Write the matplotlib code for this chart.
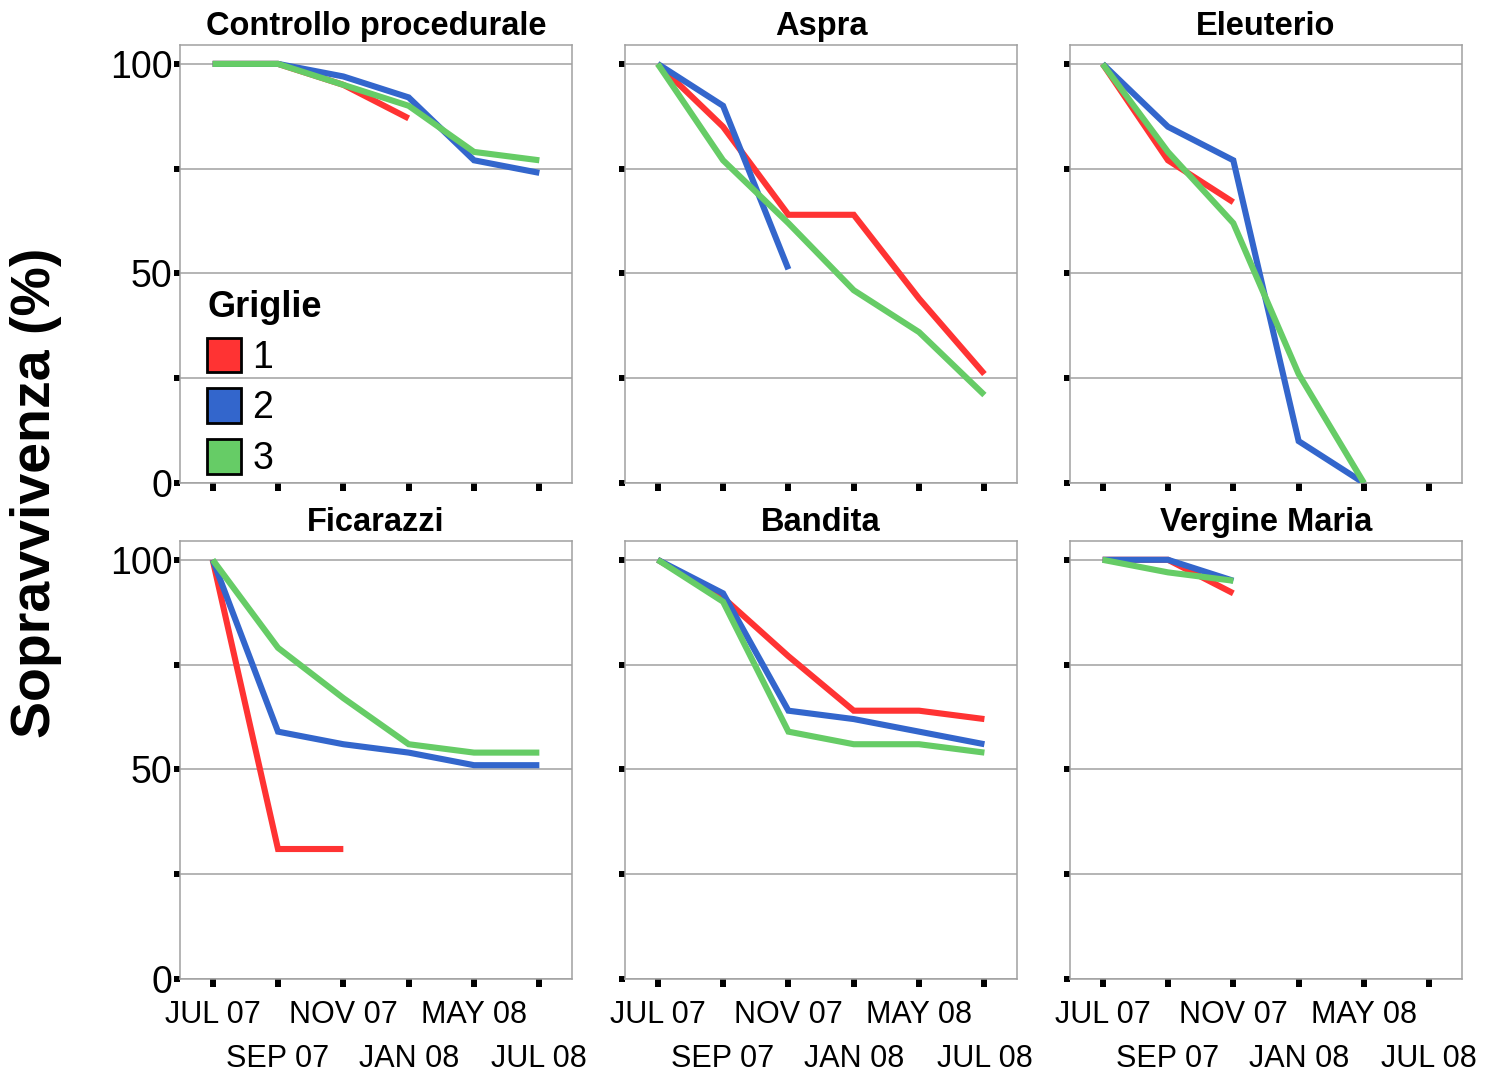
import matplotlib.pyplot as plt
import numpy as np
from matplotlib.patches import Patch

plt.rcParams['font.family'] = ['Liberation Sans', 'DejaVu Sans']

# survival (%) per grid, months without data = None
months = ["JUL 07", "SEP 07", "NOV 07", "JAN 08", "MAY 08", "JUL 08"]
griglie = ["1", "2", "3"]
colors = ["#ff3333", "#3366cc", "#66cc66"]

N = None
controllo_1 = [100, 100, 95, 87, N, N]
controllo_2 = [100, 100, 97, 92, 77, 74]
controllo_3 = [100, 100, 95, 90, 79, 77]

aspra_1 = [100, 85, 64, 64, 44, 26]
aspra_2 = [100, 90, 51, N, N, N]
aspra_3 = [100, 77, 62, 46, 36, 21]

eleuterio_1 = [100, 77, 67, N, N, N]
eleuterio_2 = [100, 85, 77, 10, 0, N]
eleuterio_3 = [100, 79, 62, 26, 0, N]

ficarazzi_1 = [100, 31, 31, N, N, N]
ficarazzi_2 = [100, 59, 56, 54, 51, 51]
ficarazzi_3 = [100, 79, 67, 56, 54, 54]

bandita_1 = [100, 91, 77, 64, 64, 62]
bandita_2 = [100, 92, 64, 62, 59, 56]
bandita_3 = [100, 90, 59, 56, 56, 54]

vergine_1 = [100, 100, 92, N, N, N]
vergine_2 = [100, 100, 95, N, N, N]
vergine_3 = [100, 97, 95, N, N, N]

sites = [
    ("Controllo procedurale", [controllo_1, controllo_2, controllo_3]),
    ("Aspra", [aspra_1, aspra_2, aspra_3]),
    ("Eleuterio", [eleuterio_1, eleuterio_2, eleuterio_3]),
    ("Ficarazzi", [ficarazzi_1, ficarazzi_2, ficarazzi_3]),
    ("Bandita", [bandita_1, bandita_2, bandita_3]),
    ("Vergine Maria", [vergine_1, vergine_2, vergine_3]),
]

fig = plt.figure(figsize=(14.9, 10.72), dpi=100)

lefts = [0.1208, 0.4195, 0.7181]
bottoms = [0.5494, 0.0868]
w, h = 0.2631, 0.4086

x = np.arange(len(months))
axes = []
for i, (title, series) in enumerate(sites):
    row, col = divmod(i, 3)
    ax = fig.add_axes([lefts[col], bottoms[row], w, h])
    axes.append(ax)

    for vals, c in zip(series, colors):
        ax.plot(x, np.array(vals, dtype=float), color=c, lw=4.4,
                solid_capstyle='butt', solid_joinstyle='miter', zorder=3)

    ax.set_xlim(-0.5, 5.5)
    ax.set_ylim(0, 104.5)
    ax.set_yticks([0, 25, 50, 75, 100])
    # alternate month labels on two rows: majors on top row, minors below
    ax.set_xticks(x[::2])
    ax.set_xticks(x[1::2], minor=True)
    ax.yaxis.grid(True, color='#a0a0a0', lw=1.1)
    ax.set_axisbelow(True)
    for s in ax.spines.values():
        s.set_color('#a0a0a0')
        s.set_linewidth(1.1)

    ax.tick_params(axis='y', length=4.3, width=4.3, color='black',
                   labelsize=27, pad=1)
    ax.tick_params(axis='x', which='both', length=6, width=4.3, color='black',
                   labelsize=22)
    ax.tick_params(axis='x', which='major', pad=9.5)
    ax.tick_params(axis='x', which='minor', pad=41)

    if col == 0:
        ax.set_yticklabels(["0", "", "50", "", "100"])
    else:
        ax.set_yticklabels([])

    if row == 1:
        ax.set_xticklabels(months[::2])
        ax.set_xticklabels(months[1::2], minor=True)
    else:
        ax.set_xticklabels([])
        ax.set_xticklabels([], minor=True)

    ax.set_title(title, fontsize=23.5, fontweight='bold', pad=7)

handles = [Patch(facecolor=c, edgecolor='black', lw=2) for c in colors]
leg = axes[0].legend(handles, griglie, title="Griglie", loc='upper left',
                     bbox_to_anchor=(0.07, 0.44), frameon=False,
                     fontsize=27, title_fontproperties={'weight': 'bold', 'size': 26},
                     handlelength=0.9, handleheight=1.05, handletextpad=0.3,
                     labelspacing=0.33, borderpad=0, borderaxespad=0,
                     alignment='left')

fig.text(0.024, 0.54, "Sopravvivenza (%)", rotation=90, ha='center',
         va='center', fontsize=40, fontweight='bold')

fig.savefig("out.png", dpi=100)
